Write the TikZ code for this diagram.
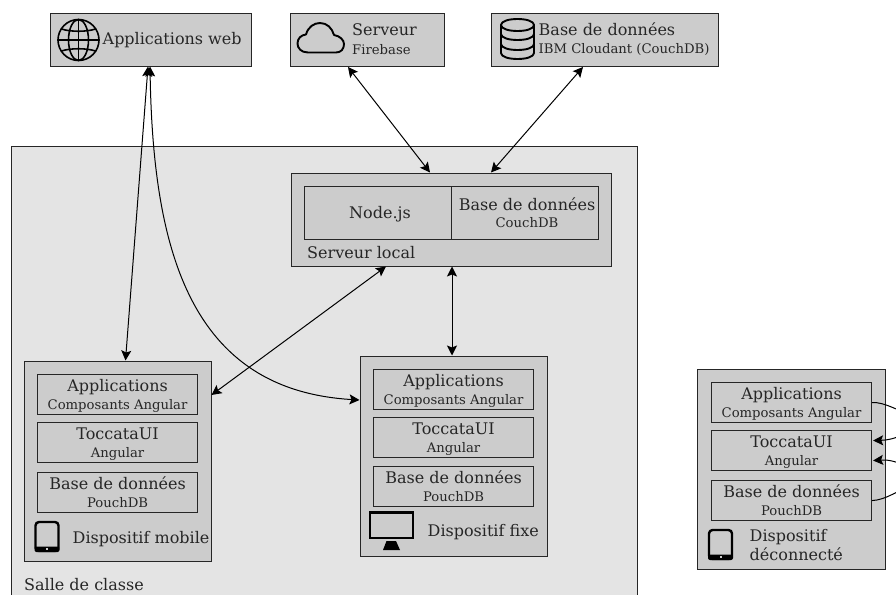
\documentclass[tikz,border=0pt]{standalone}
\usepackage{fontspec}
\setmainfont{DejaVu Serif}
\usetikzlibrary{arrows.meta}
\newcommand{\bigt}{\fontsize{16}{18}\selectfont}
\newcommand{\smallt}{\fontsize{13.2}{15}\selectfont}
\tikzset{
  x=1pt,y=-1pt,
  outer/.style={draw=black!85,line width=1.1pt,fill=boxgray,inner sep=0pt,anchor=north west},
  inner/.style={draw=black!85,line width=1.1pt,fill=boxgray,inner sep=0pt,anchor=north west},
  room/.style={draw=black!85,line width=.9pt,fill=roomgray},
  link/.style={line width=1pt,black,{Stealth[length=10pt,width=10pt,inset=2pt]}-{Stealth[length=10pt,width=10pt,inset=2pt]}},
  oneway/.style={line width=1pt,black,-{Stealth[length=10pt,width=10pt,inset=2pt]}},
  plainway/.style={line width=1pt,black},
  lab/.style={text=black!85,inner sep=0pt,align=center},
  icon/.style={line width=2pt,black,line join=round,line cap=round},
}
\definecolor{boxgray}{gray}{.8}
\definecolor{roomgray}{gray}{.895}
\newcommand{\stack}[5]{% name, x, y1 (app top), y2 (toccata top), y3 (db top)
  \node[inner,minimum width=160pt,minimum height=40pt] (#1a) at (#2,#3) {};
  \node[lab,anchor=base] (#1at) at ([yshift=-17pt]#1a.north) {\bigt Applications};
  \node[lab,anchor=base] (#1as) at ([yshift=-35.5pt]#1a.north) {\smallt Composants Angular};
  \node[inner,minimum width=160pt,minimum height=40pt] (#1b) at (#2,#4) {};
  \node[lab,anchor=base] (#1bt) at ([yshift=-17pt]#1b.north) {\bigt ToccataUI};
  \node[lab,anchor=base] (#1bs) at ([yshift=-35.5pt]#1b.north) {\smallt Angular};
  \node[inner,minimum width=160pt,minimum height=40pt] (#1c) at (#2,#5) {};
  \node[lab,anchor=base] (#1ct) at ([yshift=-17pt]#1c.north) {\bigt Base de données};
  \node[lab,anchor=base] (#1cs) at ([yshift=-35.5pt]#1c.north) {\smallt PouchDB};
}
\newcommand{\tablet}[2]{% x y of top-left
  \begin{scope}[shift={(#1,#2)}]
    \draw[icon,line width=2.4pt,rounded corners=3.5pt] (1,1) rectangle (24,30);
    \fill[black,rounded corners=2pt] (0,25.5) rectangle (25,31);
    \fill[boxgray] (11.5,27) rectangle (13.5,29);
  \end{scope}}
\begin{document}
\begin{tikzpicture}
\useasboundingbox (0,0) rectangle (896,594);
\fill[white] (0,0) rectangle (896,594);
% classroom
\draw[room] (11,146) rectangle (637,610);
\node[lab,anchor=base west] (salle) at (24,590) {\bigt Salle de classe};
% top boxes
\node[outer,minimum width=201pt,minimum height=53pt] (web) at (50,13) {};
\node[lab,anchor=base west] (webt) at (102.5,45) {\bigt Applications web};
\node[outer,minimum width=154pt,minimum height=53pt] (srv) at (290,13) {};
\node[lab,anchor=base west] (srvt) at (352,36) {\bigt Serveur};
\node[lab,anchor=base west] (srvs) at (352,54.5) {\smallt Firebase};
\node[outer,minimum width=227pt,minimum height=53pt] (cdb) at (491,13) {};
\node[lab,anchor=base west] (cdbt) at (538.5,36) {\bigt Base de données};
\node[lab,anchor=base west] (cdbs) at (538.5,53.5) {\smallt IBM Cloudant (CouchDB)};
% local server
\node[outer,minimum width=320pt,minimum height=93pt] (local) at (291,173) {};
\node[inner,minimum width=147pt,minimum height=53pt] (node) at (304,186) {};
\node[inner,minimum width=147pt,minimum height=53pt] (ldb) at (451,186) {};
\node[lab,anchor=base] (nodet) at (380,218) {\bigt Node.js};
\node[lab,anchor=base] (ldbt) at (527,210) {\bigt Base de données};
\node[lab,anchor=base] (ldbs) at (527,227) {\smallt CouchDB};
\node[lab,anchor=base west] (localt) at (307,258.5) {\bigt Serveur local};
% devices
\node[outer,minimum width=187pt,minimum height=200pt] (mob) at (24,361) {};
\stack{m}{37}{374}{422}{472}
\node[lab,anchor=base west] (mobt) at (72.5,543) {\bigt Dispositif mobile};
\tablet{34.5}{521}
\node[outer,minimum width=187pt,minimum height=200pt] (fix) at (360,356) {};
\stack{f}{373}{369}{417}{466}
\node[lab,anchor=base west] (fixt) at (427.5,536) {\bigt Dispositif fixe};
\node[outer,minimum width=188pt,minimum height=200pt] (dis) at (697,369) {};
\stack{d}{711}{382}{430}{480}
\node[lab,anchor=base west] (dist) at (749.5,541) {\bigt Dispositif};
\node[lab,anchor=base west] (diss) at (749.5,560) {\bigt déconnecté};
\tablet{708}{529}
% monitor
\draw[icon,line width=2.6pt,line cap=butt,line join=miter] (370,512.5) rectangle (413,538);
\fill[black] (386.5,541) -- (396,541) -- (400,550) -- (383,550) -- cycle;
% globe
\begin{scope}[shift={(78.5,40)}]
  \draw[icon,line width=1.6pt] (0,0) circle (20.5);
  \draw[icon,line width=1.6pt] (0,0) ellipse (10 and 20.5);
  \draw[icon,line width=1.6pt] (0,-20.5) -- (0,20.5) (-20.5,0) -- (20.5,0);
  \draw[icon,line width=1.6pt] (-17,-11) .. controls (-8,-8) and (8,-8) .. (17,-11);
  \draw[icon,line width=1.6pt] (-17,11) .. controls (-8,8) and (8,8) .. (17,11);
\end{scope}
% cloud
\draw[icon,line width=1.9pt] (308,52.5)
  .. controls (301,52.5) and (297.5,48) .. (297.5,43.5)
  .. controls (297.5,38.5) and (301,35) .. (306,34.5)
  .. controls (308,27) and (314,23) .. (320,23)
  .. controls (327,23) and (332,28) .. (334,35)
  .. controls (340,36) and (344,40) .. (344,44)
  .. controls (344,49) and (341,52.5) .. (336,52.5) -- cycle;
% database
\begin{scope}[icon,line width=1.9pt]
  \draw (501,25) .. controls (501,17) and (534,17) .. (534,25)
               .. controls (534,33) and (501,33) .. (501,25);
  \draw (501,25) -- (501,53) .. controls (501,61) and (534,61) .. (534,53) -- (534,25);
  \draw (501,34) .. controls (501,42) and (534,42) .. (534,34);
  \draw (501,44) .. controls (501,52) and (534,52) .. (534,44);
\end{scope}
% connectors
\coordinate (webA) at (148,66.5);
\coordinate (webB) at (150,66.5);
\coordinate (mobT) at (125.5,360.5);
\coordinate (fixL) at (359.5,400);
\coordinate (srvB) at (348,67);
\coordinate (locA) at (430,172.5);
\coordinate (cdbB) at (583,67);
\coordinate (locB) at (491,172.5);
\coordinate (locC) at (386,266.5);
\coordinate (mobR) at (211.5,395);
\coordinate (locD) at (452,266.5);
\coordinate (fixT) at (452,355.5);
\draw[link] (webA) -- (mobT);
\draw[link] (webB) .. controls (153,250) and (190,390) .. (fixL);
\draw[link] (srvB) -- (locA);
\draw[link] (cdbB) -- (locB);
\draw[link] (locC) -- (mobR);
\draw[link] (locD) -- (fixT);
% loops off the right edge
\coordinate (offA) at (925,421);
\coordinate (offB) at (925,478);
\draw[plainway] (da.east) .. controls (885,402) and (896,410) .. (offA);
\draw[oneway] (offA) .. controls (912,432) and (895,440) .. ([xshift=1pt,yshift=10pt]db.east);
\draw[plainway] (dc.east) .. controls (885,500) and (896,492) .. (offB);
\draw[oneway] (offB) .. controls (912,468) and (895,459) .. ([xshift=1pt,yshift=-10pt]db.east);
\end{tikzpicture}
\end{document}
